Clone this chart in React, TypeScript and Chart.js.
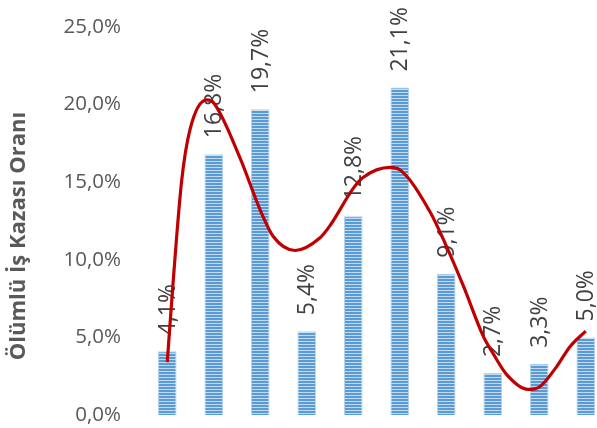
import React, { useEffect, useRef } from "react";
import { Chart, registerables } from "chart.js";

Chart.register(...registerables);

const categories = ["1", "2", "3", "4", "5", "6", "7", "8", "9", "10"];
const barValues = [4.1, 16.8, 19.7, 5.4, 12.8, 21.1, 9.1, 2.7, 3.3, 5.0];
const yTicks = [0, 5, 10, 15, 20, 25];
const axisTitle = "Ölümlü İş Kazası Oranı";
// trend curve (x in category units, y in %)
const trendX = [0, 0.13, 0.31, 0.49, 0.85, 1, 1.56, 2, 2.28, 2.75, 3.28, 3.5, 4, 4.21, 4.79, 5, 5.65, 6, 6.37, 6.8, 7, 7.3, 7.76, 8, 8.37, 8.66, 9];
const trendY = [3.4, 8.7, 15.1, 18.4, 20.3, 20.1, 16.6, 13.2, 11.5, 10.6, 11.4, 12.2, 14.6, 15.3, 15.95, 15.8, 13.1, 10.9, 8.3, 5.05, 4.0, 2.6, 1.65, 1.8, 3.1, 4.4, 5.4];

const fmt = (v: number) => v.toFixed(1).replace(".", ",") + "%";

function makePattern(ctx: CanvasRenderingContext2D) {
  const c = document.createElement("canvas");
  c.width = 4;
  c.height = 3;
  const g = c.getContext("2d")!;
  g.fillStyle = "#c3daf0";
  g.fillRect(0, 0, 4, 3);
  g.fillStyle = "#5b9bd5";
  g.fillRect(0, 0, 4, 2);
  return ctx.createPattern(c, "repeat")!;
}

export default function App() {
  const ref = useRef<HTMLCanvasElement>(null);
  useEffect(() => {
    const canvas = ref.current!;
    const ctx = canvas.getContext("2d")!;
    const pattern = makePattern(ctx);

    const labelPlugin = {
      id: "barLabels",
      beforeDatasetsDraw(chart: any) {
        const c = chart.ctx;
        const meta = chart.getDatasetMeta(0);
        c.save();
        c.font = "23px 'Open Sans'";
        c.fillStyle = "#404040";
        c.textAlign = "left";
        c.textBaseline = "middle";
        meta.data.forEach((el: any, i: number) => {
          c.save();
          c.translate(el.x + 1, el.y - 16);
          c.rotate(-Math.PI / 2);
          c.fillText(fmt(barValues[i]), 0, 0);
          c.restore();
        });
        c.restore();
      },
      afterDraw(chart: any) {
        const c = chart.ctx;
        c.save();
        c.font = "bold 22px 'Open Sans'";
        c.fillStyle = "#595959";
        c.textAlign = "center";
        c.textBaseline = "middle";
        c.translate(19, 236);
        c.rotate(-Math.PI / 2);
        c.fillText(axisTitle, 0, 0);
        c.restore();
      },
    };

    const chart = new Chart(canvas, {
      type: "bar",
      data: {
        datasets: [
          {
            type: "bar",
            label: "bars",
            data: barValues.map((v, i) => ({ x: i, y: v, c: categories[i] })),
            backgroundColor: pattern,
            borderColor: "rgba(170,205,235,0.9)",
            borderWidth: 1,
            barPercentage: 0.4,
            categoryPercentage: 1,
            order: 2,
          } as any,
          {
            type: "line",
            label: "trend",
            data: trendX.map((x, i) => ({ x, y: trendY[i] })),
            borderColor: "#c00000",
            borderWidth: 3.2,
            pointRadius: 0,
            cubicInterpolationMode: "monotone",
            fill: false,
            order: 1,
          } as any,
        ],
      },
      options: {
        responsive: false,
        animation: false,
        devicePixelRatio: 1,
        layout: { padding: { left: 0, top: 27, bottom: 13, right: 3 } },
        plugins: { legend: { display: false }, tooltip: { enabled: false } },
        scales: {
          x: { type: "linear", display: false, offset: false, min: -0.5, max: 9.5, grid: { offset: false } },
          y: {
            type: "linear",
            min: 0,
            max: 25,
            afterBuildTicks: (s: any) => {
              s.ticks = yTicks.map((v) => ({ value: v }));
            },
            afterFit: (s: any) => {
              s.width = 144;
            },
            grid: { display: false, drawTicks: true, tickLength: 23 },
            border: { display: false },
            ticks: {
              padding: 0,
              color: "#595959",
              font: { family: "'Open Sans'", size: 20.5 },
              callback: (v: any) => fmt(Number(v)),
            },
          },
        },
      },
      plugins: [labelPlugin],
    });
    return () => chart.destroy();
  }, []);

  return (
    <div style={{ position: "absolute", left: 0, top: 0, width: 597, height: 428, overflow: "hidden", background: "#fff" }}>
      <canvas ref={ref} width={612} height={428} style={{ display: "block" }} />
    </div>
  );
}
